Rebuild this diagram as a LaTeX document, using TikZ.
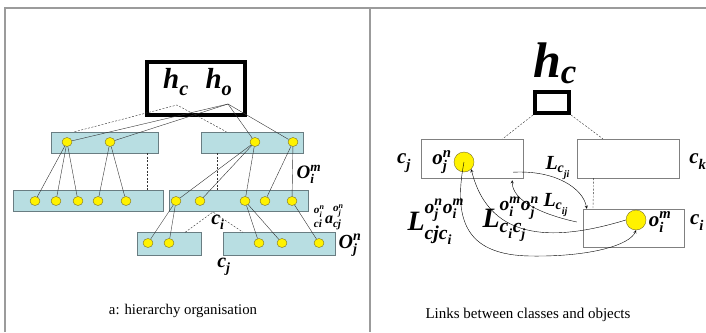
\documentclass[tikz,border=0pt]{standalone}
\usepackage{amsmath,amssymb}
\usepackage{fontspec}
\setmainfont{Liberation Serif}
\usepackage{tikz}
\usetikzlibrary{shapes.geometric, arrows, positioning, calc}
\definecolor{boxfill}{RGB}{184,222,226}
\definecolor{boxline}{RGB}{105,125,130}
\definecolor{framegray}{RGB}{155,155,155}
\definecolor{dotline}{RGB}{120,110,40}
\newcommand{\tb}[1]{\text{\bfseries\itshape #1}}
\newcommand{\sx}[3]{\tb{#1}^{\tb{#3}}_{\tb{#2}}}
\newcommand{\fs}[1]{\fontsize{#1}{#1}\selectfont}

\begin{document}
\begin{tikzpicture}[x=1pt, y=-1pt, >=stealth]
% Define styles
\tikzstyle{tbox} = [rectangle, draw=boxline, fill=boxfill, inner sep=0pt, minimum height=21pt]
\tikzstyle{cbox} = [rectangle, draw=gray, inner sep=0pt, minimum width=102pt, minimum height=39pt]
\tikzstyle{dot} = [ellipse, draw=dotline, fill=yellow, inner sep=0pt, minimum width=10pt, minimum height=9pt]
\tikzstyle{bigdot} = [circle, draw=dotline, fill=yellow, inner sep=0pt, minimum size=20pt]
\tikzstyle{hbox} = [rectangle, draw=black, line width=4pt, inner sep=0pt]
\tikzstyle{lbl} = [inner sep=0pt]
\tikzstyle{link} = [thin, black!80]
\tikzstyle{dline} = [thin, black!80, dash pattern=on 2pt off 1.5pt]
\tikzstyle{arrow} = [thin, ->, >=stealth]

\useasboundingbox (0,0) rectangle (706,332);

% Frame
\draw[framegray, line width=1.6pt] (5,332) -- (5,8) -- (706,8);
\draw[framegray, line width=1.6pt] (370,8) -- (370,332);

% Left panel: nodes
\node (hbox) [hbox, minimum width=98pt, minimum height=53pt] at (196,88.5) {};
\node (hc) [lbl, font=\fs{29}] at (176,82) {$\sx{h}{c}{}$};
\node (ho) [lbl, font=\fs{29}] at (219,82) {$\sx{h}{o}{}$};
\coordinate (hapex) at (228,104);
\coordinate (dapex) at (177,105);

\node (l1a) [tbox, minimum width=107pt] at (104.5,142.5) {};
\node (l1b) [tbox, minimum width=102pt] at (252,142.5) {};
\node (l2a) [tbox, minimum width=150pt] at (88,201) {};
\node (l2b) [tbox, minimum width=139pt] at (238.5,201) {};
\node (l3a) [tbox, minimum width=64pt, minimum height=23pt] at (169,244) {};
\node (l3b) [tbox, minimum width=112pt, minimum height=23pt] at (279,244) {};

\foreach \n/\x in {1/67,2/110,3/255,4/293}
  \node (p\n) [dot] at (\x,142) {};
\foreach \n/\x in {1/35,2/56,3/78,4/98,5/126}
  \node (a\n) [dot] at (\x,201) {};
\foreach \n/\x in {1/176,2/200,3/245,4/265,5/292}
  \node (b\n) [dot] at (\x,201) {};
\foreach \n/\x in {1/148,2/169}
  \node (q\n) [dot] at (\x,243) {};
\foreach \n/\x in {1/259,2/282,3/319}
  \node (r\n) [dot] at (\x,243) {};

\node (oim) [lbl, font=\fs{19}] at (309,174) {$\sx{O}{i}{m}$};
\node (aij) [lbl, font=\fs{16}] at (329,217) {${}^{\sx{o}{i}{n}}_{\tb{ci}}\tb{a}^{\sx{o}{j}{n}}_{\tb{cj}}$};
\node (ojn) [lbl, font=\fs{20}] at (350,245) {$\sx{O}{j}{n}$};
\node (ci) [lbl, font=\fs{20}] at (218,222) {$\sx{c}{i}{}$};
\node (cj) [lbl, font=\fs{20}] at (224,267) {$\sx{c}{j}{}$};
\node (capa) [lbl, font=\fs{14.8}] at (183,311) {a: hierarchy organisation};

% Left panel: connections
\draw [dline] ($(l1a.north west)!0.22!(l1a.north east)$) -- (dapex) -- ($(l1b.north west)!0.25!(l1b.north east)$);
\foreach \t in {p1,p2,p3,p4}
  \draw [link] (hapex) -- (\t);
\foreach \t in {a1,a2,a3}
  \draw [link] (p1) -- (\t);
\foreach \t in {a4,a5}
  \draw [link] (p2) -- (\t);
\foreach \t in {b1,b2,b3}
  \draw [link] (p3) -- (\t);
\draw [link] (p4) -- (b4);
\draw [link] (p4) -- (b5);
\draw [dline] ($(l1a.south west)!0.9!(l1a.south east)$) -- ($(l1a.south west)!0.9!(l1a.south east)+(0,37)$);
\draw [dline] ($(l1b.south west)!0.16!(l1b.south east)$) -- ($(l1b.south west)!0.16!(l1b.south east)+(0,37)$);
\foreach \t in {q1,q2}
  \draw [link] (b1) -- (\t);
\foreach \t in {r1,r2}
  \draw [link] (b3) -- (\t);
\draw [link] (b5) -- (r3);
\coordinate (capex) at (213,212);
\draw [dline] ($(l3a.north west)!0.75!(l3a.north east)$) -- (capex) -- ($(l3b.north west)!0.18!(l3b.north east)$);

% Right panel: nodes
\node (hc2) [lbl, font=\fs{50}] at (555,63) {$\sx{h}{c}{}$};
\node (hbox2) [hbox, minimum width=34pt, minimum height=21pt] at (552,102.5) {};
\node (boxj) [cbox] at (472,158.5) {};
\node (boxk) [cbox] at (628.5,158.5) {};
\node (boxi) [cbox, minimum width=101pt, minimum height=38pt] at (633.5,228) {};
\node (oj) [bigdot] at (464,162) {};
\node (oi) [bigdot] at (636,220) {};

\node (lcj) [lbl, font=\fs{21}] at (404,163) {$\sx{c}{j}{}$};
\node (lojn) [lbl, font=\fs{21}] at (442,162) {$\sx{o}{j}{n}$};
\node (lck) [lbl, font=\fs{21}] at (698,162) {$\sx{c}{k}{}$};
\node (loim) [lbl, font=\fs{21}] at (660,222) {$\sx{o}{i}{m}$};
\node (lci) [lbl, font=\fs{21}] at (697,223) {$\sx{c}{i}{}$};
\node (lji) [lbl, font=\fs{20}] at (558,168) {$\tb{L}_{\sx{c}{ji}{}}$};
\node (lij) [lbl, font=\fs{20}] at (556,205) {$\tb{L}_{\sx{c}{ij}{}}$};
\node (ljo) [lbl, font=\fs{28}] at (436,222) {$\tb{L}^{\sx{o}{j}{n}\sx{o}{i}{m}}_{\tb{cjc}_{\tb{i}}}$};
\node (lio) [lbl, font=\fs{28}] at (511,219) {$\tb{L}^{\sx{o}{i}{m}\sx{o}{j}{n}}_{\sx{c}{i}{}\sx{c}{j}{}}$};
\node (capb) [lbl, font=\fs{15}] at (528,315) {Links between classes and objects};

% Right panel: connections
\draw [dline] (hbox2.south west) -- ($(boxj.north west)!0.8!(boxj.north east)$);
\draw [dline] (hbox2.south east) -- ($(boxk.north west)!0.25!(boxk.north east)$);
\draw [dline] ($(boxk.south west)!0.16!(boxk.south east)$) -- ($(boxi.north west)!0.1!(boxi.north east)$);
\draw [arrow] ($(boxj.south east)+(-10,-6)$) .. controls (555,170) and (583,188) .. ($(boxi.north west)+(4,0)$);
\draw [arrow] ($(boxi.west)+(-6,-6)$) .. controls (540,214) and (512,200) .. ($(boxj.south east)+(-11,2)$);
\draw [arrow] (oi.west) .. controls (560,240) and (490,245) .. (oj.south east);
\draw [arrow] (oj.center) .. controls (452,225) and (470,255) .. (530,256) .. controls (590,257) and (630,245) .. (oi.south);
\end{tikzpicture}
\end{document}
